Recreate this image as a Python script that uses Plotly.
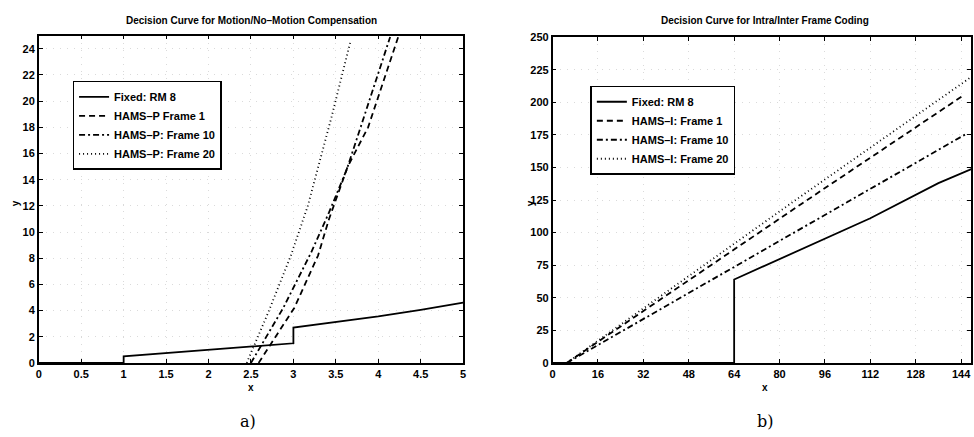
import plotly.graph_objects as go

# ---------- Data: panel a) Motion / No-Motion ----------
a_fixed_x = [0, 1, 1, 1.92, 3, 3, 3.68, 4, 4.5, 5]
a_fixed_y = [0, 0, 0.5, 0.94, 1.5, 2.7, 3.25, 3.55, 4.05, 4.6]
a_f1_x = [2.59, 3.01, 3.29, 3.42, 3.64, 3.88, 4.235]
a_f1_y = [0, 4.2, 8.2, 11.0, 15.0, 18.0, 24.9]
a_f10_x = [2.5, 2.88, 3.21, 3.42, 3.63, 3.79, 4.14]
a_f10_y = [0, 4.2, 8.45, 11.5, 14.8, 18.0, 24.9]
a_f20_x = [2.45, 2.7, 2.97, 3.17, 3.45, 3.67]
a_f20_y = [0, 3.8, 8.2, 12.0, 18.8, 24.5]
a_xticks = [0, 0.5, 1, 1.5, 2, 2.5, 3, 3.5, 4, 4.5, 5]
a_yticks = list(range(0, 25, 2))

# ---------- Data: panel b) Intra / Inter ----------
b_fixed_x = [0, 64, 64, 112, 136, 148]
b_fixed_y = [0, 0, 64, 111, 138, 149]
b_f1_x = [5, 87.7, 144.9]
b_f1_y = [0, 122, 205.4]
b_f10_x = [5, 104.1, 146.1]
b_f10_y = [0, 123.4, 176.1]
b_f20_x = [5, 85.4, 147.3]
b_f20_y = [0, 124.6, 219]
b_xticks = list(range(0, 145, 16))
b_yticks = list(range(0, 251, 25))

fig = go.Figure()

lw = 1.8
def add(x, y, name, dash, xa, ya, leg):
    fig.add_trace(go.Scatter(x=x, y=y, mode="lines", name=name,
                             line=dict(color="black", width=lw, dash=dash),
                             xaxis=xa, yaxis=ya, legend=leg))

add(a_fixed_x, a_fixed_y, "Fixed: RM 8", "solid", "x", "y", "legend")
add(a_f1_x, a_f1_y, "HAMS\u2013P Frame 1", "6px,4px", "x", "y", "legend")
add(a_f10_x, a_f10_y, "HAMS\u2013P: Frame 10", "6px,3px,2px,3px", "x", "y", "legend")
add(a_f20_x, a_f20_y, "HAMS\u2013P: Frame 20", "1px,3px", "x", "y", "legend")

add(b_fixed_x, b_fixed_y, "Fixed: RM 8", "solid", "x2", "y2", "legend2")
add(b_f1_x, b_f1_y, "HAMS\u2013I: Frame 1", "6px,4px", "x2", "y2", "legend2")
add(b_f10_x, b_f10_y, "HAMS\u2013I: Frame 10", "6px,3px,2px,3px", "x2", "y2", "legend2")
add(b_f20_x, b_f20_y, "HAMS\u2013I: Frame 20", "1px,3px", "x2", "y2", "legend2")

W, H = 974, 437
tickfont = dict(family="Liberation Sans, Arial", size=11, color="black", weight="bold")
axis_common = dict(showline=True, linecolor="black", linewidth=1.5, mirror="ticks",
                   ticks="inside", ticklen=4, tickcolor="black", tickwidth=1,
                   showgrid=True, gridcolor="#dadada", griddash="1px,6px", gridwidth=1,
                   zeroline=False, tickfont=tickfont)

legend_common = dict(bordercolor="black", borderwidth=1.5, bgcolor="white",
                     font=dict(family="Liberation Sans, Arial", size=11, color="black", weight="bold"),
                     xanchor="left", yanchor="top", tracegroupgap=0, itemwidth=30)

fig.update_layout(
    width=W, height=H, margin=dict(l=0, r=0, t=0, b=0),
    paper_bgcolor="white", plot_bgcolor="white",
    xaxis=dict(domain=[36 / W, 463 / W], range=[0, 5], tickvals=a_xticks,
               ticktext=[f"{v:g}" for v in a_xticks], anchor="y", **axis_common),
    yaxis=dict(domain=[1 - 367 / H, 1 - 30.5 / H], range=[0, 25], tickvals=a_yticks,
               anchor="x", **axis_common),
    xaxis2=dict(domain=[553 / W, 1.0], range=[0, 147.5], tickvals=b_xticks,
                anchor="y2", **axis_common),
    yaxis2=dict(domain=[1 - 367 / H, 1 - 32 / H], range=[0, 250], tickvals=b_yticks,
                anchor="x2", **axis_common),
    legend=dict(x=70 / W, y=1 - 77 / H, **legend_common),
    legend2=dict(x=591 / W, y=1 - 82 / H, **legend_common),
    showlegend=True,
)

title_font = dict(family="Liberation Sans, Arial", size=10, color="black", weight="bold")
ann = [
    dict(text="Decision Curve for Motion/No\u2013Motion Compensation", x=250 / W, y=1 - 15 / H,
         font=title_font),
    dict(text="Decision Curve for Intra/Inter Frame Coding", x=767 / W, y=1 - 15 / H,
         font=title_font),
    dict(text="x", x=250 / W, y=1 - 392 / H, font=title_font),
    dict(text="x", x=767 / W, y=1 - 392 / H, font=title_font),
    dict(text="y", x=12 / W, y=1 - 203 / H, font=title_font, textangle=-90),
    dict(text="y", x=531 / W, y=1 - 203 / H, font=title_font, textangle=-90),
    dict(text="a)", x=247 / W, y=1 - 427 / H,
         font=dict(family="DejaVu Serif, Liberation Serif", size=16, color="black")),
    dict(text="b)", x=767 / W, y=1 - 427 / H,
         font=dict(family="DejaVu Serif, Liberation Serif", size=16, color="black")),
]
for a in ann:
    a.update(xref="paper", yref="paper", showarrow=False, xanchor="center", yanchor="middle")
fig.update_layout(annotations=ann)

fig.write_html("out.html")
